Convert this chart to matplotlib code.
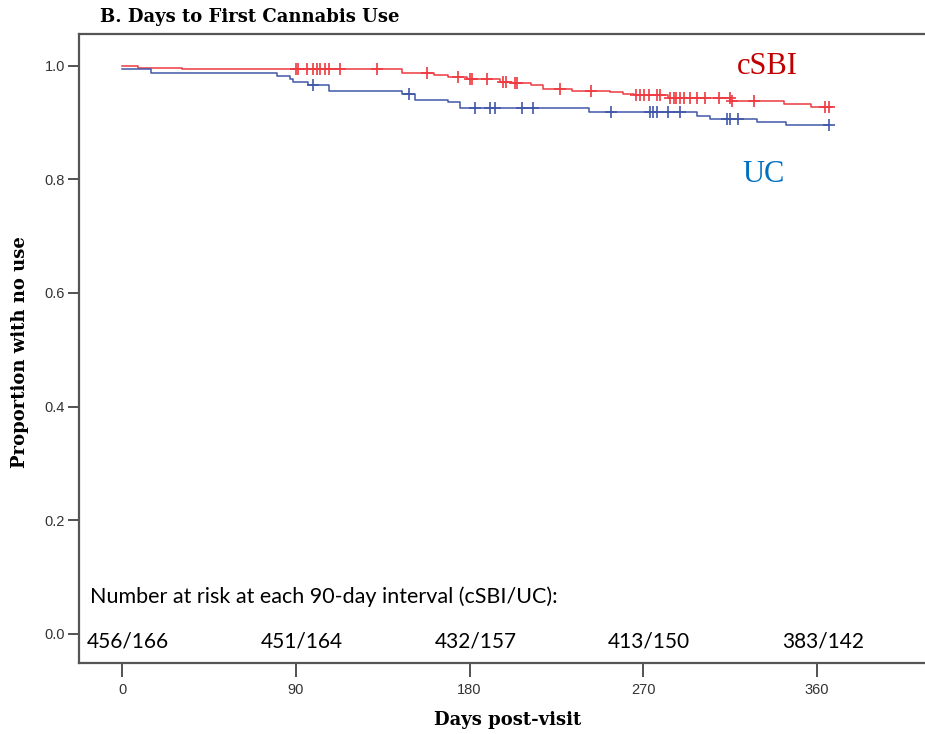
import matplotlib
matplotlib.use("Agg")
import matplotlib.pyplot as plt
import numpy as np

# Kaplan-Meier steps (day, proportion with no use)
csbi_days = [0, 8, 31, 145, 161.5, 169, 178.5, 196, 202, 212, 218, 233, 253, 259.5, 265, 283, 315, 343, 357, 368]
csbi_surv = [1.0, 0.997, 0.994, 0.988, 0.984, 0.981, 0.976, 0.972, 0.969, 0.966, 0.960, 0.956, 0.953, 0.951, 0.948, 0.944, 0.938, 0.932, 0.927, 0.927]
csbi_censor = [90, 91, 95.5, 99, 101, 102.5, 105, 107.3, 113, 132, 158, 174, 180, 181, 189, 197.5, 199, 203.6, 204.6,
               227, 243, 266, 268.3, 270.3, 272.9, 277.3, 278.8, 284, 285.7, 287, 289.2, 291.2, 294.3, 297.8, 302,
               309, 314.7, 315.9, 327.2, 364.3, 366]

uc_days = [0, 15, 80, 87, 88.7, 96.4, 107, 145, 151.7, 169, 175, 242, 298, 304.7, 329, 344, 366]
uc_surv = [0.995, 0.988, 0.982, 0.977, 0.972, 0.967, 0.956, 0.951, 0.940, 0.936, 0.925, 0.919, 0.911, 0.907, 0.901, 0.895, 0.895]
uc_censor = [98.7, 148.8, 182.8, 190.6, 193.4, 207.4, 213, 253.3, 273.6, 275.3, 277, 283, 289, 313.3, 315, 319.3, 366]

risk_days = [0, 90, 180, 270, 360]
risk_labels = ["456/166", "451/164", "432/157", "413/150", "383/142"]

red = "#EE3A40"
blue = "#4057A8"
tick_font = ["Liberation Sans Narrow", "Liberation Sans"]


def step_value(days, surv, t):
    idx = np.searchsorted(days, t, side="right") - 1
    return np.array(surv)[idx]


fig = plt.figure(figsize=(9.25, 7.34), dpi=100)
ax = fig.add_axes([79 / 925, 1 - 663.3 / 734, (925 - 79) / 925, (663.3 - 34) / 734])

ax.step(csbi_days, csbi_surv, where="post", color=red, lw=1.1)
ax.step(uc_days, uc_surv, where="post", color=blue, lw=1.1)
ax.plot(csbi_censor, step_value(csbi_days, csbi_surv, csbi_censor), ls="none",
        marker="+", ms=9, mew=1.2, color=red)
ax.plot(uc_censor, step_value(uc_days, uc_surv, uc_censor), ls="none",
        marker="+", ms=9, mew=1.2, color=blue)

ax.set_xlim(-22.4, 416)
ax.set_ylim(-0.052, 1.056)
ax.set_xticks(risk_days)
ax.set_yticks([0.0, 0.2, 0.4, 0.6, 0.8, 1.0])
ax.set_yticklabels(["0.0", "0.2", "0.4", "0.6", "0.8", "1.0"])
ax.tick_params(axis="x", length=10, width=1.3, color="#444444", labelsize=10.5,
               labelcolor="#333333", pad=4)
ax.tick_params(axis="y", length=8, width=1.3, color="#444444", labelsize=10.5,
               labelcolor="#333333", pad=2)
for lab in ax.get_xticklabels() + ax.get_yticklabels():
    lab.set_family(tick_font)

for side in ["left", "bottom", "top"]:
    ax.spines[side].set_color("#555555")
    ax.spines[side].set_linewidth(1.6)
ax.spines["right"].set_visible(False)

ax.text(318.7, 0.985, "cSBI", color="#C00000", fontsize=22, family="Liberation Serif", va="baseline")
ax.text(321.2, 0.795, "UC", color="#0070C0", fontsize=22, family="Liberation Serif", va="baseline")

ax.text(-16.7, 0.054, "Number at risk at each 90-day interval (cSBI/UC):", fontsize=15.5,
        family="Lato", va="baseline")
for d, lab in zip(risk_days, risk_labels):
    ax.text(d + 3, -0.025, lab, fontsize=15, family="Lato", ha="center", va="baseline")

fig.text(100 / 925, 1 - 22.5 / 734, "B. Days to First Cannabis Use", fontsize=13,
         family="DejaVu Serif", weight="bold", va="baseline")
fig.text(20 / 925, 1 - 352 / 734, "Proportion with no use", fontsize=13, family="DejaVu Serif",
         weight="bold", rotation=90, ha="center", va="center")
fig.text(508 / 925, 1 - 720 / 734, "Days post-visit", fontsize=13, family="DejaVu Serif",
         weight="bold", ha="center", va="center")

fig.savefig("out.png", dpi=100)
